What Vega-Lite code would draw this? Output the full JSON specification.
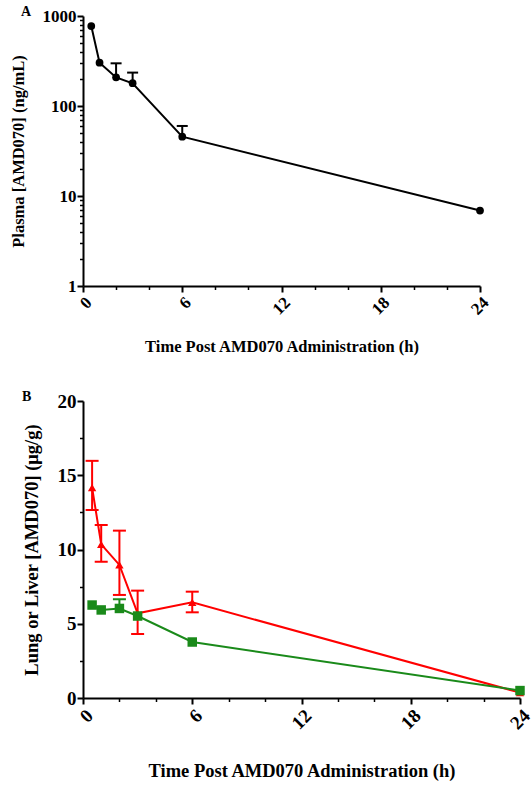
{
  "$schema": "https://vega.github.io/schema/vega-lite/v6.json",
  "padding": {"left": 10, "top": 5, "right": 0, "bottom": 0},
  "background": "white",
  "spacing": 35,
  "config": {
    "view": {"stroke": null},
    "font": "Liberation Serif",
    "axis": {
      "domainColor": "black", "domainWidth": 2, "tickColor": "black", "tickWidth": 2,
      "labelColor": "black", "titleColor": "black", "labelFont": "Liberation Serif",
      "titleFont": "Liberation Serif", "labelFontWeight": "bold", "titleFontWeight": "bold",
      "grid": false
    }
  },
  "datasets": {
    "plasma": [
      {"t": 0.5, "conc": 774, "hi": null},
      {"t": 1, "conc": 303, "hi": null},
      {"t": 2, "conc": 208, "hi": 298},
      {"t": 3, "conc": 179, "hi": 235},
      {"t": 6, "conc": 45.6, "hi": 60},
      {"t": 24, "conc": 6.9, "hi": null}
    ],
    "tissue": [
      {"tissue": "lung", "t": 0.5, "conc": 14.16, "lo": 12.66, "hi": 15.97},
      {"tissue": "lung", "t": 1, "conc": 10.35, "lo": 9.18, "hi": 11.65},
      {"tissue": "lung", "t": 2, "conc": 8.96, "lo": 6.94, "hi": 11.27},
      {"tissue": "lung", "t": 3, "conc": 5.7, "lo": 4.31, "hi": 7.23},
      {"tissue": "lung", "t": 6, "conc": 6.44, "lo": 5.77, "hi": 7.16},
      {"tissue": "lung", "t": 24, "conc": 0.36, "lo": null, "hi": null},
      {"tissue": "liver", "t": 0.5, "conc": 6.26, "lo": null, "hi": null},
      {"tissue": "liver", "t": 1, "conc": 5.93, "lo": null, "hi": null},
      {"tissue": "liver", "t": 2, "conc": 6.03, "lo": null, "hi": 6.65},
      {"tissue": "liver", "t": 3, "conc": 5.52, "lo": null, "hi": null},
      {"tissue": "liver", "t": 6, "conc": 3.77, "lo": null, "hi": null},
      {"tissue": "liver", "t": 24, "conc": 0.5, "lo": null, "hi": null}
    ]
  },
  "vconcat": [
    {
      "width": 397, "height": 270,
      "title": {"text": "A", "anchor": "start", "frame": "group", "dx": -62, "dy": 12, "offset": 0, "fontSize": 14, "font": "Liberation Serif", "fontWeight": "bold", "color": "black"},
      "data": {"name": "plasma"},
      "resolve": {"axis": {"x": "independent", "y": "independent"}},
      "layer": [
        {
          "mark": {"type": "line", "color": "black", "strokeWidth": 2},
          "encoding": {
            "x": {"field": "t", "type": "quantitative", "scale": {"domain": [0, 24], "nice": false},
                  "axis": {"orient": "bottom", "values": [0, 6, 12, 18, 24], "labelAngle": -45, "labelFontSize": 17, "tickSize": 6, "labelPadding": 2,
                           "title": "Time Post AMD070 Administration (h)", "titleFontSize": 16.5, "titlePadding": 21}},
            "y": {"field": "conc", "type": "quantitative", "scale": {"type": "log", "domain": [1, 1000], "nice": false},
                  "axis": {"orient": "left", "values": [1, 10, 100, 1000], "format": "d", "labelFontSize": 17, "tickSize": 6, "labelPadding": 1,
                           "title": "Plasma [AMD070] (ng/mL)", "titleFontSize": 16.5, "titlePadding": 16}}
          }
        },
        {
          "mark": {"type": "point", "filled": true, "shape": "circle", "size": 60, "color": "black", "opacity": 1},
          "encoding": {
            "x": {"field": "t", "type": "quantitative", "scale": {"domain": [0, 24], "nice": false},
                  "axis": {"orient": "bottom", "values": [2, 4, 8, 10, 14, 16, 20, 22], "labels": false, "domain": false, "tickSize": 3.5, "tickWidth": 1.5, "title": null}},
            "y": {"field": "conc", "type": "quantitative", "scale": {"type": "log", "domain": [1, 1000], "nice": false},
                  "axis": {"orient": "left", "values": [2, 3, 4, 5, 6, 7, 8, 9, 20, 30, 40, 50, 60, 70, 80, 90, 200, 300, 400, 500, 600, 700, 800, 900], "labels": false, "domain": false, "tickSize": 3.5, "tickWidth": 1.5, "title": null}}
          }
        },
        {
          "transform": [{"filter": "datum.hi != null"}],
          "mark": {"type": "rule", "color": "black", "strokeWidth": 2},
          "encoding": {
            "x": {"field": "t", "type": "quantitative", "scale": {"domain": [0, 24], "nice": false}, "axis": null},
            "y": {"field": "conc", "type": "quantitative", "scale": {"type": "log", "domain": [1, 1000], "nice": false}, "axis": null},
            "y2": {"field": "hi"}
          }
        },
        {
          "transform": [{"filter": "datum.hi != null"}],
          "mark": {"type": "tick", "orient": "horizontal", "color": "black", "size": 11, "thickness": 2, "opacity": 1},
          "encoding": {
            "x": {"field": "t", "type": "quantitative", "scale": {"domain": [0, 24], "nice": false}, "axis": null},
            "y": {"field": "hi", "type": "quantitative", "scale": {"type": "log", "domain": [1, 1000], "nice": false}, "axis": null}
          }
        }
      ]
    },
    {
      "width": 437, "height": 297,
      "title": {"text": "B", "anchor": "start", "frame": "group", "dx": -61, "dy": 12, "offset": 0, "fontSize": 14, "font": "Liberation Serif", "fontWeight": "bold", "color": "black"},
      "data": {"name": "tissue"},
      "resolve": {"axis": {"x": "independent", "y": "independent"}},
      "layer": [
        {
          "transform": [{"filter": "datum.hi != null"}],
          "mark": {"type": "rule", "strokeWidth": 2},
          "encoding": {
            "x": {"field": "t", "type": "quantitative", "scale": {"domain": [0, 24], "nice": false},
                  "axis": {"orient": "bottom", "values": [2, 4, 8, 10, 14, 16, 20, 22], "labels": false, "domain": false, "tickSize": 3.5, "tickWidth": 1.5, "title": null}},
            "y": {"field": "conc", "type": "quantitative", "scale": {"domain": [0, 20], "nice": false},
                  "axis": {"orient": "left", "values": [2.5, 7.5, 12.5, 17.5], "labels": false, "domain": false, "tickSize": 3.5, "tickWidth": 1.5, "title": null}},
            "y2": {"field": "hi"},
            "color": {"field": "tissue", "type": "nominal", "scale": {"domain": ["lung", "liver"], "range": ["#ff0000", "#1a8a1a"]}, "legend": null}
          }
        },
        {
          "transform": [{"filter": "datum.lo != null"}],
          "mark": {"type": "rule", "strokeWidth": 2},
          "encoding": {
            "x": {"field": "t", "type": "quantitative", "scale": {"domain": [0, 24], "nice": false}, "axis": null},
            "y": {"field": "lo", "type": "quantitative", "scale": {"domain": [0, 20], "nice": false}, "axis": null},
            "y2": {"field": "conc"},
            "color": {"field": "tissue", "type": "nominal", "legend": null}
          }
        },
        {
          "transform": [{"filter": "datum.hi != null"}],
          "mark": {"type": "tick", "orient": "horizontal", "size": 13, "thickness": 2, "opacity": 1},
          "encoding": {
            "x": {"field": "t", "type": "quantitative", "scale": {"domain": [0, 24], "nice": false}, "axis": null},
            "y": {"field": "hi", "type": "quantitative", "scale": {"domain": [0, 20], "nice": false}, "axis": null},
            "color": {"field": "tissue", "type": "nominal", "legend": null}
          }
        },
        {
          "transform": [{"filter": "datum.lo != null"}],
          "mark": {"type": "tick", "orient": "horizontal", "size": 13, "thickness": 2, "opacity": 1},
          "encoding": {
            "x": {"field": "t", "type": "quantitative", "scale": {"domain": [0, 24], "nice": false}, "axis": null},
            "y": {"field": "lo", "type": "quantitative", "scale": {"domain": [0, 20], "nice": false}, "axis": null},
            "color": {"field": "tissue", "type": "nominal", "legend": null}
          }
        },
        {
          "mark": {"type": "line", "strokeWidth": 2},
          "encoding": {
            "x": {"field": "t", "type": "quantitative", "scale": {"domain": [0, 24], "nice": false},
                  "axis": {"orient": "bottom", "values": [0, 6, 12, 18, 24], "labelAngle": -45, "labelFontSize": 19, "tickSize": 6, "labelPadding": 2,
                           "title": "Time Post AMD070 Administration (h)", "titleFontSize": 18.5, "titlePadding": 29}},
            "y": {"field": "conc", "type": "quantitative", "scale": {"domain": [0, 20], "nice": false},
                  "axis": {"orient": "left", "values": [0, 5, 10, 15, 20], "labelFontSize": 19, "tickSize": 6, "labelPadding": 1,
                           "title": "Lung or Liver [AMD070] (μg/g)", "titleFontSize": 18.5, "titlePadding": 16}},
            "color": {"field": "tissue", "type": "nominal", "legend": null}
          }
        },
        {
          "mark": {"type": "point", "filled": true, "opacity": 1},
          "encoding": {
            "x": {"field": "t", "type": "quantitative", "scale": {"domain": [0, 24], "nice": false}, "axis": null},
            "y": {"field": "conc", "type": "quantitative", "scale": {"domain": [0, 20], "nice": false}, "axis": null},
            "color": {"field": "tissue", "type": "nominal", "legend": null},
            "shape": {"field": "tissue", "type": "nominal", "scale": {"domain": ["lung", "liver"], "range": ["triangle-up", "square"]}, "legend": null},
            "size": {"field": "tissue", "type": "nominal", "scale": {"domain": ["lung", "liver"], "range": [70, 90]}, "legend": null}
          }
        }
      ]
    }
  ]
}
